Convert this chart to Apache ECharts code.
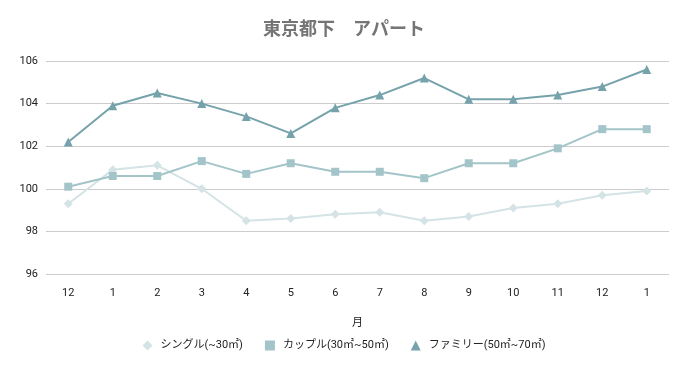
<!DOCTYPE html>
<html><head><meta charset="utf-8">
<script src="https://cdn.jsdelivr.net/npm/echarts@6/dist/echarts.min.js"></script>
<style>html,body{margin:0;padding:0;background:#fff}#c{width:688px;height:371px}</style>
</head><body><div id="c"></div>
<script>
const categories = ['12','1','2','3','4','5','6','7','8','9','10','11','12','1'];
const single = [99.3,100.9,101.1,100.0,98.5,98.6,98.8,98.9,98.5,98.7,99.1,99.3,99.7,99.9];
const couple = [100.1,100.6,100.6,101.3,100.7,101.2,100.8,100.8,100.5,101.2,101.2,101.9,102.8,102.8];
const family = [102.2,103.9,104.5,104.0,103.4,102.6,103.8,104.4,105.2,104.2,104.2,104.4,104.8,105.6];
const seriesNames = ['シングル(~30㎡)','カップル(30㎡~50㎡)','ファミリー(50㎡~70㎡)'];
const font = 'Roboto, "Noto Sans CJK JP", sans-serif';
const chart = echarts.init(document.getElementById('c'));
chart.setOption({
  animation:false,
  textStyle:{fontFamily:font},
  title:{text:'東京都下　アパート',left:'center',top:17,textStyle:{fontSize:18,fontWeight:'bold',color:'#757575',fontFamily:font}},
  grid:{left:46,right:19,top:61,bottom:97,containLabel:false},
  legend:{bottom:15,left:'center',itemWidth:10,itemHeight:10,itemGap:22,textStyle:{fontSize:11,color:'#222',padding:[0,0,0,3]},
    data:[{name:seriesNames[0],icon:'diamond'},{name:seriesNames[1],icon:'rect'},{name:seriesNames[2],icon:'triangle'}]},
  xAxis:{type:'category',data:categories,boundaryGap:true,name:'月',nameLocation:'middle',nameGap:44,
    nameTextStyle:{fontSize:11,color:'#222'},
    axisLine:{show:false},axisTick:{show:false},axisLabel:{color:'#222',fontSize:11,margin:14}},
  yAxis:{type:'value',min:96,max:106,interval:2,axisLine:{show:false},axisTick:{show:false},
    axisLabel:{color:'#222',fontSize:11,margin:8},splitLine:{lineStyle:{color:'#cccccc'}}},
  series:[
    {name:seriesNames[0],type:'line',data:single,symbol:'diamond',symbolSize:9,color:'#d4e3e5',lineStyle:{width:2},itemStyle:{color:'#d4e3e5'}},
    {name:seriesNames[1],type:'line',data:couple,symbol:'rect',symbolSize:8,color:'#a3c4c8',lineStyle:{width:2},itemStyle:{color:'#a3c4c8'}},
    {name:seriesNames[2],type:'line',data:family,symbol:'triangle',symbolSize:9,color:'#76a2ab',lineStyle:{width:2},itemStyle:{color:'#76a2ab'}}
  ]
});
</script></body></html>
